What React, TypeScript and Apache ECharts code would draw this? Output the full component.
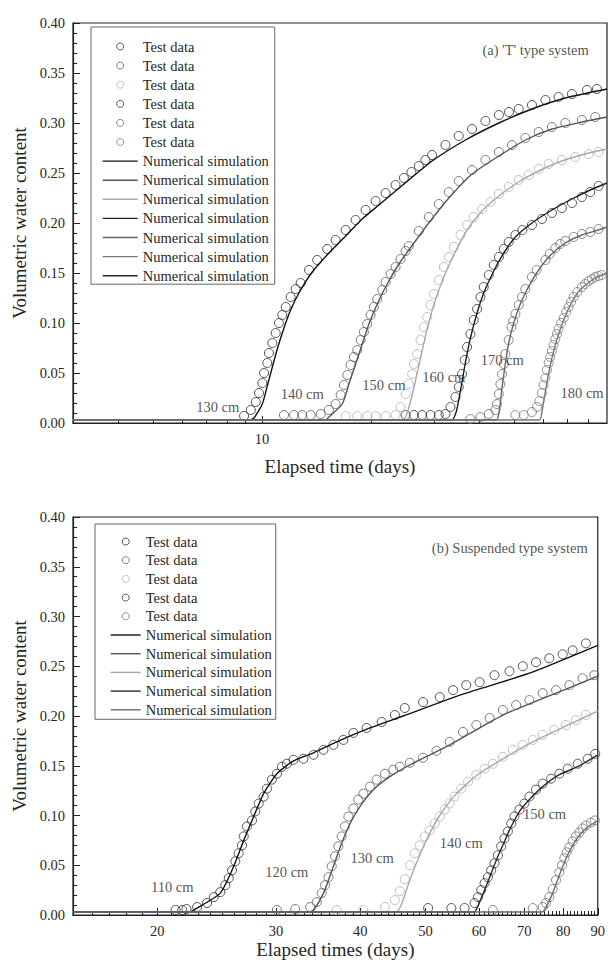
import React, { useEffect, useRef } from "react";
import * as echarts from "echarts";

const FONT = "Liberation Serif";
const INK = "#262626";

// ---------- (a) 'T' type system : test data [days, volumetric water content] ----------
const t130 = [[8.92,0.007],[9.31,0.013],[9.61,0.021],[9.81,0.03],[10.02,0.04],[10.13,0.05],[10.34,0.06],[10.45,0.07],[10.68,0.08],[10.91,0.09],[11.14,0.1],[11.38,0.108],[11.63,0.116],[12.0,0.126],[12.39,0.134],[12.79,0.14],[13.49,0.153],[14.21,0.163],[15.15,0.174],[15.98,0.183],[17.03,0.193],[18.15,0.203],[19.34,0.213],[20.61,0.222],[21.97,0.23],[23.41,0.238],[24.68,0.245],[25.9,0.251],[27.14,0.257],[28.3,0.263],[29.54,0.268],[32.17,0.278],[35.0,0.287],[38.1,0.294],[41.5,0.302],[45.2,0.308],[48.2,0.311],[51.3,0.314],[55.8,0.318],[60.8,0.323],[66.1,0.326],[72.0,0.329],[79.2,0.333],[84.4,0.334]];
const t140 = [[11.5,0.008],[12.26,0.008],[12.92,0.008],[13.63,0.008],[14.53,0.009],[15.31,0.013],[15.98,0.019],[16.5,0.028],[16.85,0.038],[17.21,0.048],[17.58,0.058],[17.96,0.066],[18.34,0.073],[18.74,0.083],[19.13,0.091],[19.54,0.099],[19.97,0.108],[20.39,0.116],[20.83,0.124],[21.5,0.133],[21.97,0.141],[22.68,0.149],[23.41,0.156],[24.16,0.164],[24.95,0.172],[25.47,0.177],[27.14,0.192],[28.93,0.206],[30.83,0.219],[32.86,0.231],[35.02,0.242],[38.1,0.253],[41.5,0.263],[45.2,0.271],[49.14,0.278],[53.53,0.285],[58.25,0.291],[63.38,0.296],[69.0,0.3],[76.7,0.303],[83.5,0.306]];
const t150 = [[17.03,0.007],[18.34,0.007],[19.54,0.007],[20.61,0.007],[21.97,0.007],[23.41,0.008],[24.16,0.016],[24.95,0.029],[25.47,0.039],[26.02,0.049],[26.3,0.059],[26.85,0.069],[27.44,0.083],[28.02,0.096],[28.62,0.106],[29.24,0.118],[29.86,0.129],[30.83,0.143],[31.83,0.156],[32.86,0.166],[33.92,0.176],[35.39,0.188],[36.91,0.198],[38.51,0.206],[40.61,0.214],[42.84,0.221],[45.2,0.229],[48.12,0.236],[51.3,0.243],[54.66,0.248],[58.25,0.254],[62.07,0.259],[67.53,0.263],[73.54,0.266],[80.08,0.269],[85.3,0.271]];
const t160 = [[24.95,0.008],[26.3,0.008],[27.72,0.008],[29.24,0.008],[30.83,0.008],[32.17,0.009],[33.21,0.016],[34.28,0.026],[35.02,0.036],[35.75,0.049],[36.37,0.063],[36.91,0.076],[37.71,0.089],[38.51,0.103],[39.34,0.114],[40.19,0.126],[41.05,0.136],[42.38,0.148],[43.75,0.158],[45.2,0.166],[46.62,0.174],[48.12,0.181],[50.22,0.188],[52.5,0.193],[55.8,0.198],[59.48,0.204],[63.38,0.21],[67.53,0.215],[72.0,0.22],[76.7,0.226],[80.9,0.231],[85.3,0.237]];
const t170 = [[37.71,0.004],[40.19,0.006],[42.38,0.009],[44.22,0.013],[44.67,0.019],[45.2,0.029],[45.64,0.039],[46.11,0.049],[46.62,0.059],[47.12,0.069],[48.12,0.083],[48.96,0.096],[49.5,0.102],[50.22,0.109],[51.3,0.118],[52.38,0.126],[53.5,0.134],[55.8,0.146],[57.5,0.153],[60.8,0.163],[62.5,0.169],[64.76,0.175],[66.8,0.179],[69.0,0.182],[72.76,0.186],[76.7,0.189],[80.9,0.191],[85.3,0.194]];
const t180 = [[50.22,0.008],[52.95,0.008],[55.8,0.011],[57.62,0.016],[58.5,0.022],[59.48,0.03],[60.1,0.038],[60.8,0.045],[61.4,0.053],[62.07,0.06],[62.7,0.066],[63.38,0.072],[64.0,0.078],[64.76,0.084],[65.4,0.089],[66.1,0.094],[67.2,0.1],[68.3,0.105],[69.4,0.111],[70.5,0.116],[71.6,0.121],[72.76,0.126],[74.5,0.131],[76.7,0.136],[78.3,0.139],[80.08,0.142],[81.8,0.144],[83.5,0.146],[85.2,0.147],[86.96,0.148]];

// ---------- (a) numerical simulation ----------
const s130 = [[3,0.003],[9.2,0.003],[9.5,0.005],[10.02,0.019],[10.34,0.037],[10.68,0.056],[11.02,0.074],[11.5,0.095],[12.0,0.113],[12.65,0.13],[13.77,0.151],[15.31,0.17],[17.03,0.187],[18.93,0.204],[21.05,0.218],[23.41,0.232],[25.47,0.243],[29.54,0.262],[36.53,0.283],[45.2,0.3],[55.8,0.314],[69.0,0.325],[90,0.334]];
const s140 = [[3,0.003],[15.0,0.003],[15.31,0.006],[16.67,0.019],[17.39,0.039],[18.15,0.059],[18.93,0.079],[19.75,0.099],[20.83,0.119],[22.19,0.139],[23.9,0.159],[25.47,0.173],[28.93,0.2],[32.86,0.225],[38.1,0.249],[45.2,0.267],[53.53,0.283],[63.38,0.294],[76.7,0.301],[90,0.306]];
const s150 = [[3,0.003],[24.5,0.003],[25.2,0.01],[26.3,0.035],[27.44,0.065],[28.62,0.094],[29.86,0.118],[31.83,0.146],[33.92,0.168],[36.91,0.193],[40.61,0.212],[45.2,0.227],[51.3,0.241],[58.25,0.252],[67.53,0.262],[80.08,0.27],[90,0.274]];
const s160 = [[3,0.003],[33.5,0.003],[34.5,0.012],[35.5,0.035],[36.5,0.06],[37.71,0.085],[39.34,0.11],[41.05,0.13],[43.75,0.152],[46.62,0.17],[50.22,0.186],[55.8,0.2],[63.38,0.213],[72.0,0.224],[80.9,0.233],[90,0.24]];
const s170 = [[3,0.003],[44.5,0.003],[45.3,0.012],[46.11,0.035],[47.12,0.06],[48.12,0.08],[49.5,0.098],[51.3,0.115],[53.5,0.13],[57.5,0.15],[62.5,0.167],[69.0,0.18],[76.7,0.188],[85.3,0.193],[90,0.196]];
const s180 = [[3,0.003],[58.5,0.003],[59.5,0.012],[61.0,0.035],[62.5,0.055],[64.76,0.078],[68.3,0.103],[72.76,0.124],[76.7,0.135],[83.5,0.145],[90,0.15]];
const sExtra: number[][] = [];

// ---------- (b) Suspended type system : test data ----------
const b110 = [[21.29,0.005],[21.78,0.005],[22.1,0.006],[22.92,0.008],[23.71,0.012],[24.26,0.018],[24.8,0.023],[25.23,0.03],[25.53,0.037],[25.82,0.045],[26.11,0.054],[26.41,0.062],[26.71,0.07],[26.87,0.079],[27.17,0.089],[27.64,0.095],[27.95,0.104],[28.28,0.112],[28.76,0.119],[29.09,0.127],[29.58,0.136],[30.09,0.142],[30.61,0.149],[31.13,0.152],[31.85,0.156],[32.95,0.157],[34.1,0.161],[35.28,0.166],[36.5,0.171],[37.76,0.176],[39.07,0.183],[40.88,0.188],[43.03,0.194],[45.02,0.201],[46.57,0.208],[49.57,0.214],[52.47,0.219],[54.92,0.226],[57.45,0.231],[60.12,0.234],[63.26,0.241],[66.58,0.245],[69.67,0.25],[72.9,0.254],[76.28,0.258],[79.84,0.262],[82.61,0.266],[86.43,0.273]];
const b120 = [[30.09,0.005],[32.03,0.006],[33.71,0.008],[34.48,0.013],[35.07,0.022],[35.47,0.03],[35.89,0.038],[36.29,0.049],[36.7,0.059],[37.12,0.069],[37.54,0.079],[37.97,0.089],[38.41,0.099],[39.07,0.107],[39.74,0.116],[40.43,0.122],[41.35,0.129],[42.3,0.136],[43.51,0.142],[44.77,0.146],[45.78,0.149],[47.37,0.153],[49.57,0.158],[51.88,0.165],[54.28,0.174],[56.8,0.184],[59.45,0.191],[62.21,0.198],[65.1,0.206],[68.11,0.211],[71.27,0.216],[74.58,0.223],[78.04,0.226],[81.67,0.231],[85.45,0.238],[88.92,0.241]];
const b130 = [[36.91,0.005],[40.43,0.005],[43.51,0.008],[45.02,0.015],[45.78,0.024],[46.57,0.036],[47.37,0.05],[48.18,0.062],[49.0,0.07],[49.85,0.079],[50.71,0.085],[51.58,0.092],[52.47,0.099],[53.37,0.106],[54.28,0.112],[55.21,0.119],[56.48,0.127],[57.79,0.134],[59.45,0.141],[61.15,0.147],[62.91,0.152],[65.1,0.159],[67.36,0.166],[69.67,0.171],[72.09,0.176],[74.58,0.181],[77.6,0.186],[80.75,0.191],[83.53,0.196],[86.43,0.201]];
const b140 = [[50.43,0.007],[54.6,0.007],[57.12,0.007],[59.1,0.012],[59.79,0.018],[60.46,0.025],[61.15,0.032],[61.85,0.038],[62.55,0.045],[63.26,0.052],[64.0,0.06],[64.72,0.069],[65.46,0.077],[66.22,0.084],[66.97,0.092],[67.72,0.099],[68.88,0.106],[70.06,0.112],[71.27,0.119],[72.9,0.126],[74.58,0.132],[76.74,0.137],[78.94,0.142],[81.23,0.147],[84.03,0.152],[86.96,0.157],[89.23,0.162]];
const b150 = [[62.91,0.005],[72.09,0.007],[74.58,0.008],[75.43,0.012],[76.28,0.018],[77.17,0.026],[78.04,0.035],[78.94,0.043],[79.66,0.05],[80.29,0.057],[80.94,0.063],[81.67,0.068],[82.61,0.074],[83.53,0.079],[84.5,0.083],[85.45,0.087],[86.43,0.09],[87.93,0.093],[89.13,0.095]];

// ---------- (b) numerical simulation ----------
const m110 = [[15,0.003],[22.3,0.003],[22.66,0.005],[24.8,0.022],[25.97,0.049],[26.87,0.075],[27.64,0.095],[28.76,0.122],[30.09,0.142],[31.85,0.155],[34.1,0.163],[36.91,0.174],[41.35,0.188],[46.3,0.2],[56.8,0.222],[71.27,0.243],[90,0.271]];
const m120 = [[15,0.003],[33.7,0.003],[34.2,0.006],[35.28,0.022],[36.5,0.049],[37.54,0.072],[38.63,0.092],[39.96,0.109],[41.83,0.126],[44.25,0.139],[46.84,0.149],[54.28,0.171],[65.1,0.201],[78.04,0.223],[90,0.24]];
const m130 = [[15,0.003],[45.2,0.003],[46.0,0.01],[47.37,0.035],[49.0,0.06],[50.71,0.082],[52.47,0.1],[55.21,0.12],[59.45,0.14],[65.1,0.157],[72.09,0.174],[80.75,0.19],[90,0.205]];
const m140 = [[15,0.003],[59.0,0.003],[59.5,0.006],[61.15,0.025],[62.55,0.042],[64.0,0.059],[65.46,0.074],[66.97,0.089],[68.88,0.104],[71.27,0.116],[74.58,0.129],[78.94,0.141],[84.03,0.149],[90,0.161]];
const m150 = [[15,0.003],[74.5,0.003],[75.43,0.008],[77.17,0.022],[78.94,0.04],[80.94,0.058],[82.61,0.07],[84.5,0.08],[86.43,0.087],[90,0.095]];

// ---------- axes ----------
const topXMajor = [10];
const topXMinor = [4, 5, 6, 7, 8, 9, 20, 30, 40, 50, 60, 70, 80];
const botXMajor = [20, 30, 40, 50, 60, 70, 80, 90];
const botXMinor: number[] = [];
for (let v = 16; v < 90; v++) if (v % 10 !== 0) botXMinor.push(v);

// ---------- annotations [x(days), y, text] ----------
const topNotes: [number, number, string][] = [
  [7.54, 0.016, "130 cm"], [12.92, 0.0287, "140 cm"], [21.73, 0.0377, "150 cm"],
  [31.83, 0.046, "160 cm"], [46.17, 0.0627, "170 cm"], [76.8, 0.0297, "180 cm"],
];
const botNotes: [number, number, string][] = [
  [21.05, 0.0284, "110 cm"], [31.13, 0.0435, "120 cm"], [41.66, 0.0573, "130 cm"],
  [56.48, 0.0727, "140 cm"], [75.06, 0.1015, "150 cm"],
];
const topTitle: [number, number, string] = [80.1, 0.3727, "(a) 'T' type system"];
const botTitle: [number, number, string] = [86.96, 0.3685, "(b) Suspended type system"];

const topTests = [t130, t140, t150, t160, t170, t180];
const topSims = [s130, s140, s150, s160, s170, s180, sExtra];
const botTests = [b110, b120, b130, b140, b150];
const botSims = [m110, m120, m130, m140, m150];

const topTestColors = ["#2a2a2a", "#5c5c5c", "#b2b2b2", "#303030", "#6a6a6a", "#7c7c7c"];
const topSimColors = ["#111111", "#555555", "#a8a8a8", "#1e1e1e", "#666666", "#777777", "#2a2a2a"];
const botTestColors = ["#2a2a2a", "#5c5c5c", "#b2b2b2", "#303030", "#707070"];
const botSimColors = ["#111111", "#555555", "#a8a8a8", "#2a2a2a", "#6c6c6c"];

function buildOption() {
  const series: any[] = [];
  const topLegend: any[] = [];
  const botLegend: any[] = [];

  const scatter = (name: string, data: number[][], color: string, xi: number, yi: number) => ({
    type: "scatter", name, data, xAxisIndex: xi, yAxisIndex: yi, symbol: "circle", symbolSize: 9,
    itemStyle: { color: "rgba(255,255,255,0)", borderColor: color, borderWidth: 1 }, z: 2, silent: true,
  });
  const line = (name: string, data: number[][], color: string, xi: number, yi: number) => ({
    type: "line", name, data, xAxisIndex: xi, yAxisIndex: yi, symbol: "none", showSymbol: false, smooth: 0.2,
    lineStyle: { color, width: 1.4 }, itemStyle: { color }, z: 3, silent: true,
  });
  const testLegendItem = (name: string, color: string) => ({
    name, icon: "circle",
    itemStyle: { color: "rgba(255,255,255,0)", borderColor: color, borderWidth: 1 },
  });
  const lineLegendItem = (name: string, color: string) => ({
    name,
    itemStyle: { color: "rgba(255,255,255,0)", borderColor: "rgba(255,255,255,0)", borderWidth: 0, opacity: 0 },
    lineStyle: { color, width: 1.4, opacity: 1 },
  });

  topTests.forEach((d, i) => { const n = `Test data a${i}`; topLegend.push(testLegendItem(n, topTestColors[i])); series.push(scatter(n, d, topTestColors[i], 0, 0)); });
  topSims.forEach((d, i) => { const n = `Numerical simulation a${i}`; topLegend.push(lineLegendItem(n, topSimColors[i])); series.push(line(n, d, topSimColors[i], 0, 0)); });
  botTests.forEach((d, i) => { const n = `Test data b${i}`; botLegend.push(testLegendItem(n, botTestColors[i])); series.push(scatter(n, d, botTestColors[i], 2, 1)); });
  botSims.forEach((d, i) => { const n = `Numerical simulation b${i}`; botLegend.push(lineLegendItem(n, botSimColors[i])); series.push(line(n, d, botSimColors[i], 2, 1)); });

  const noteSeries = (notes: [number, number, string][], title: [number, number, string], xi: number, yi: number) => ({
    type: "scatter", name: "notes", xAxisIndex: xi, yAxisIndex: yi, symbolSize: 0, silent: true, z: 5,
    data: [
      ...notes.map((n) => ({ value: n, label: { align: "center" } })),
      { value: title, label: { align: "right" } },
    ],
    label: {
      show: true, position: "inside", formatter: (p: any) => p.value[2], verticalAlign: "middle",
      fontFamily: FONT, fontSize: 14.5, color: INK,
    },
  });
  series.push(noteSeries(topNotes, topTitle, 0, 0));
  series.push(noteSeries(botNotes, botTitle, 2, 1));

  const legendFmt = (name: string) => (name.startsWith("Test") ? "Test data" : "Numerical simulation");
  const legendBase = {
    orient: "vertical", formatter: legendFmt, selectedMode: false, itemHeight: 7,
    borderColor: "#666", borderWidth: 1, backgroundColor: "#fff",
    textStyle: { fontFamily: FONT, fontSize: 14.5, color: INK },
  };

  const axisLine = { show: true, onZero: false, lineStyle: { color: "#222", width: 1.2 } };
  const labelStyle = { fontFamily: FONT, fontSize: 14.5, color: INK };
  const nameStyle = { fontFamily: FONT, fontSize: 19, color: INK };

  const xMain = (gi: number, min: number, max: number, major: number[], name: string, gap: number) => ({
    type: "log", logBase: 10, gridIndex: gi, min, max, position: "bottom",
    axisLine, splitLine: { show: false },
    axisTick: { show: true, inside: true, length: 7, customValues: major, lineStyle: { color: "#222", width: 1 } },
    axisLabel: { show: true, customValues: major, margin: 8, ...labelStyle },
    name, nameLocation: "middle", nameGap: gap, nameTextStyle: nameStyle,
  });
  const xMinor = (gi: number, min: number, max: number, minor: number[]) => ({
    type: "log", logBase: 10, gridIndex: gi, min, max, position: "bottom",
    axisLine: { show: false, onZero: false }, splitLine: { show: false },
    axisTick: { show: true, inside: true, length: 4, customValues: minor, lineStyle: { color: "#222", width: 1 } },
    axisLabel: { show: false },
  });
  const yAx = (gi: number) => ({
    type: "value", gridIndex: gi, min: 0, max: 0.4, interval: 0.05,
    axisLine, splitLine: { show: false },
    axisTick: { show: true, inside: true, length: 7, lineStyle: { color: "#222", width: 1 } },
    minorTick: { show: true, splitNumber: 5, length: 4, lineStyle: { color: "#222", width: 1 } },
    axisLabel: { margin: 8, formatter: (v: number) => v.toFixed(2), ...labelStyle },
    name: "Volumetric water content", nameLocation: "middle", nameRotate: 90, nameGap: 43, nameTextStyle: nameStyle,
  });

  return {
    animation: false,
    backgroundColor: "#fff",
    textStyle: { fontFamily: FONT },
    grid: [
      { left: 73, top: 23, width: 534, height: 400, show: true, borderColor: "#222", borderWidth: 1.2, backgroundColor: "transparent" },
      { left: 73, top: 517, width: 529, height: 398, show: true, borderColor: "#222", borderWidth: 1.2, backgroundColor: "transparent" },
    ],
    xAxis: [
      xMain(0, 3, 90, topXMajor, "Elapsed time (days)", 34),
      xMinor(0, 3, 90, topXMinor),
      xMain(1, 15, 90, botXMajor, "Elapsed times (days)", 25),
      xMinor(1, 15, 90, botXMinor),
    ],
    yAxis: [yAx(0), yAx(1)],
    legend: [
      { ...legendBase, data: topLegend, left: 91, top: 27, itemWidth: 35, itemGap: 4.1, padding: [12, 6, 1, 11] },
      { ...legendBase, data: botLegend, left: 95, top: 524, itemWidth: 30, itemGap: 3.7, padding: [10, 4, 2, 15] },
    ],
    series,
  };
}

export default function App() {
  const ref = useRef<HTMLDivElement>(null);
  useEffect(() => {
    document.body.style.margin = "0";
    const chart = echarts.init(ref.current!, null, { renderer: "svg" });
    chart.setOption(buildOption() as any);
    return () => chart.dispose();
  }, []);
  return <div ref={ref} style={{ width: 608, height: 968 }} />;
}
